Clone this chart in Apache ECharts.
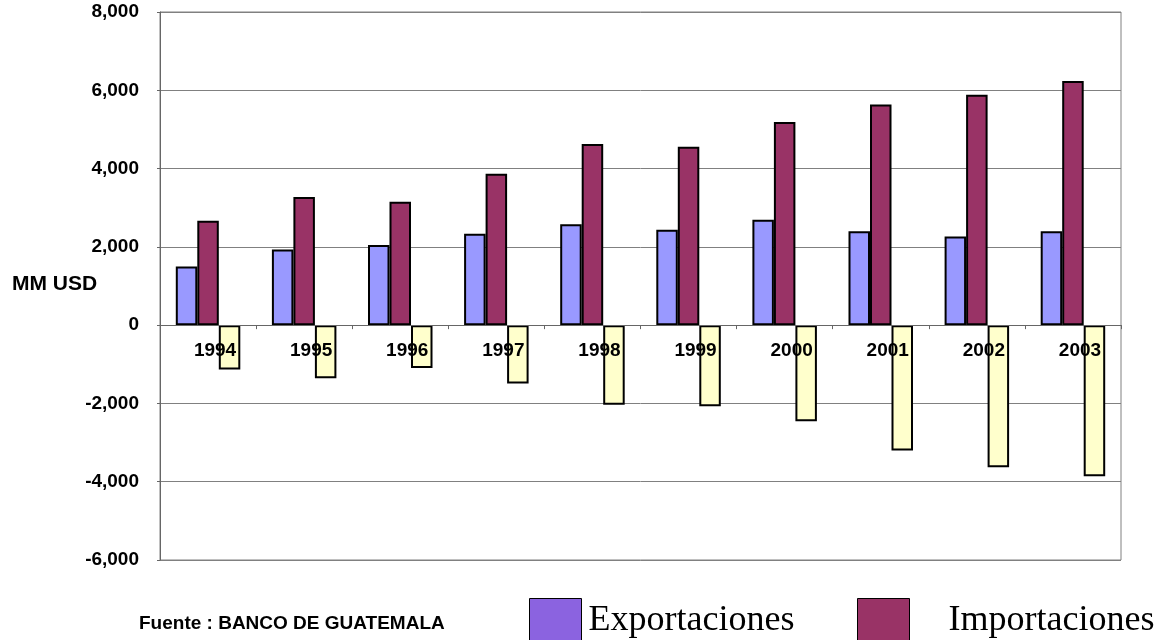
<!DOCTYPE html>
<html>
<head>
<meta charset="utf-8">
<script src="https://cdn.jsdelivr.net/npm/echarts@6/dist/echarts.min.js"></script>
<style>
  html, body { margin: 0; padding: 0; background: #fff; }
  #chart { width: 1155px; height: 640px; }
</style>
</head>
<body>
<div id="chart"></div>
<script>
// Guatemala trade balance, MM USD (Fuente: Banco de Guatemala)
const years = ['1994', '1995', '1996', '1997', '1998', '1999', '2000', '2001', '2002', '2003']
const exportaciones = [1500, 1935, 2045, 2335, 2580, 2435, 2695, 2400, 2265, 2400]
const importaciones = [2670, 3275, 3150, 3870, 4630, 4560, 5190, 5640, 5885, 6240]
const balanza = [-1135, -1355, -1095, -1490, -2035, -2075, -2455, -3205, -3630, -3860]
const yTicks = { min: -6000, max: 8000, step: 2000 }

const fmt = v => v.toLocaleString('en-US')
const barBorder = { borderColor: '#000', borderWidth: 2 }

const gridTop = 12
const gridBottom = 80
const plotHeight = 640 - gridTop - gridBottom
// lift the category axis (line, ticks, labels) up to the zero line
const zeroOffset = -plotHeight * (0 - yTicks.min) / (yTicks.max - yTicks.min)

const serifFont = '"Liberation Serif", "Times New Roman", serif'
const sansFont = 'Arial, "Liberation Sans", sans-serif'

const chart = echarts.init(document.getElementById('chart'))

const option = {
  animation: false,
  backgroundColor: '#fff',
  textStyle: { fontFamily: sansFont },
  grid: {
    left: 160, right: 34, top: gridTop, bottom: gridBottom,
    show: true, borderColor: '#808080', borderWidth: 1
  },
  xAxis: {
    type: 'category',
    data: years,
    z: 5,
    offset: zeroOffset,
    axisLine: { onZero: false, lineStyle: { color: '#666', width: 1 } },
    axisTick: { show: true, length: 4, lineStyle: { color: '#666' } },
    axisLabel: {
      color: '#000', fontWeight: 'bold', fontSize: 19, margin: 16,
      padding: [0, 0, 0, 14]
    },
    splitLine: { show: false }
  },
  yAxis: {
    type: 'value',
    min: yTicks.min,
    max: yTicks.max,
    interval: yTicks.step,
    axisLine: { show: true, lineStyle: { color: '#666' } },
    axisTick: { show: true, length: 3, lineStyle: { color: '#666' } },
    axisLabel: {
      color: '#000', fontWeight: 'bold', fontSize: 19, margin: 21,
      formatter: v => fmt(v)
    },
    splitLine: { lineStyle: { color: '#808080', width: 1 } }
  },
  legend: [
    {
      left: 529, top: 598, padding: 0, icon: 'rect',
      itemWidth: 52, itemHeight: 44,
      data: [{ name: 'Exportaciones', itemStyle: { color: '#8b63e0', borderColor: '#000', borderWidth: 1 } }],
      textStyle: { fontFamily: serifFont, fontSize: 36, color: '#000', padding: [0, 0, 0, 2] }
    },
    {
      left: 857, top: 598, padding: 0, icon: 'rect',
      itemWidth: 52, itemHeight: 44,
      data: [{ name: 'Importaciones', itemStyle: { color: '#993366', borderColor: '#000', borderWidth: 1 } }],
      textStyle: { fontFamily: serifFont, fontSize: 36, color: '#000', padding: [0, 0, 0, 34] }
    }
  ],
  graphic: [
    {
      type: 'text', left: 12, top: 274,
      style: { text: 'MM USD', fontSize: 21, fontWeight: 'bold', fill: '#000', fontFamily: sansFont }
    },
    {
      type: 'text', left: 139, top: 614,
      style: { text: 'Fuente : BANCO DE GUATEMALA', fontSize: 19, fontWeight: 'bold', fill: '#000', fontFamily: sansFont }
    }
  ],
  series: [
    {
      name: 'Exportaciones', type: 'bar', data: exportaciones,
      barWidth: 21.5, barGap: '0%',
      itemStyle: Object.assign({ color: '#9999ff' }, barBorder)
    },
    {
      name: 'Importaciones', type: 'bar', data: importaciones,
      barWidth: 21.5, barGap: '0%',
      itemStyle: Object.assign({ color: '#993366' }, barBorder)
    },
    {
      name: 'Balanza', type: 'bar', data: balanza,
      barWidth: 21.5, barGap: '0%',
      itemStyle: Object.assign({ color: '#ffffcc' }, barBorder)
    }
  ]
}

chart.setOption(option)
</script>
</body>
</html>
